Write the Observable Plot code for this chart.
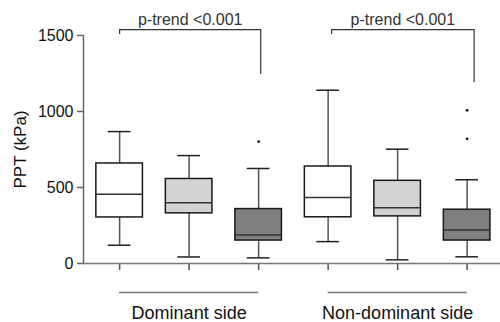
<!DOCTYPE html>
<html>
<head>
<meta charset="utf-8">
<script src="https://cdn.jsdelivr.net/npm/d3@7"></script>
<script src="https://cdn.jsdelivr.net/npm/@observablehq/plot@0.6"></script>
<style>
  html, body { margin: 0; padding: 0; background: #fff; }
  #chart svg { display: block; }
</style>
</head>
<body>
<div id="chart"></div>
<script>
// ---- data ----
const groups = ["Dominant side", "Non-dominant side"];
const groupStart = [1, 4];
const groupEnd = [3, 6];
const positions = [1, 2, 3, 4, 5, 6];
const boxFills = ["#ffffff", "#d3d3d3", "#7f7f7f", "#ffffff", "#d3d3d3", "#7f7f7f"];
const whiskerLow = [120, 43, 37, 144, 24, 44];
const q1 = [303, 330, 151, 304, 310, 151];
const median = [456, 400, 188, 435, 367, 221];
const q3 = [658, 556, 358, 638, 544, 354];
const whiskerHigh = [868, 710, 625, 1140, 752, 551];
const outlierPos = [3, 6, 6];
const outlierVal = [802, 1008, 820];
const yTicks = [0, 500, 1000, 1500];
const bracketLabel = ["p-trend <0.001", "p-trend <0.001"];
const bracketX1 = [1, 4.05];
const bracketX2 = [3.03, 6.1];
const bracketTop = [1539, 1539];
const bracketLeftEnd = [1507, 1507];
const bracketRightEnd = [1243, 1191];

// ---- derived tables ----
const boxes = positions.map((p, i) => ({
  x: p, fill: boxFills[i], lo: whiskerLow[i], q1: q1[i], med: median[i], q3: q3[i], hi: whiskerHigh[i]
}));
const outliers = outlierPos.map((p, i) => ({x: p, y: outlierVal[i]}));
const grp = groups.map((g, i) => ({label: g, x1: groupStart[i], x2: groupEnd[i], xm: (groupStart[i] + groupEnd[i]) / 2}));
const brackets = bracketLabel.map((t, i) => ({
  t, x1: bracketX1[i], x2: bracketX2[i], top: bracketTop[i], le: bracketLeftEnd[i], re: bracketRightEnd[i],
  xm: (bracketX1[i] + bracketX2[i]) / 2
}));

const HB = 0.335, HC = 0.163;
const font = "'Liberation Sans', Arial, sans-serif";

const chart = Plot.plot({
  width: 500,
  height: 322,
  marginLeft: 83,
  marginRight: 0,
  marginTop: 35,
  marginBottom: 59,
  style: {fontFamily: font, background: "#fff", color: "#222"},
  color: {type: "identity"},
  x: {domain: [0.48, 6.48], axis: null},
  y: {domain: [0, 1500], axis: null},
  marks: [
    // axes
    Plot.axisY({ticks: yTicks, tickFormat: d => String(d), tickSize: 6, tickPadding: 4, fontSize: 16, label: null, stroke: "#666", strokeWidth: 1.5, fill: "#111"}),
    Plot.axisX({ticks: positions, tickSize: 7, tickFormat: () => "", label: null, stroke: "#555", strokeWidth: 1.5}),
    Plot.frame({anchor: "left", stroke: "#666", strokeWidth: 1.5}),
    Plot.frame({anchor: "bottom", stroke: "#777", strokeWidth: 1.5}),
    // whiskers
    Plot.ruleX(boxes, {x: "x", y1: "lo", y2: "q1", stroke: "#555", strokeWidth: 1.5}),
    Plot.ruleX(boxes, {x: "x", y1: "q3", y2: "hi", stroke: "#555", strokeWidth: 1.5}),
    Plot.ruleY(boxes, {y: "lo", x1: d => d.x - HC, x2: d => d.x + HC, stroke: "#222", strokeWidth: 1.5}),
    Plot.ruleY(boxes, {y: "hi", x1: d => d.x - HC, x2: d => d.x + HC, stroke: "#222", strokeWidth: 1.5}),
    // boxes
    Plot.rect(boxes, {x1: d => d.x - HB, x2: d => d.x + HB, y1: "q1", y2: "q3", fill: "fill", stroke: "#1a1a1a", strokeWidth: 1.5}),
    Plot.ruleY(boxes, {y: "med", x1: d => d.x - HB, x2: d => d.x + HB, stroke: "#333", strokeWidth: 1.5}),
    // outliers
    Plot.dot(outliers, {x: "x", y: "y", r: 1.4, fill: "#111", stroke: "none"}),
    // trend brackets
    Plot.ruleY(brackets, {y: "top", x1: "x1", x2: "x2", stroke: "#333", strokeWidth: 1.2}),
    Plot.ruleX(brackets, {x: "x1", y1: "le", y2: "top", stroke: "#333", strokeWidth: 1.2}),
    Plot.ruleX(brackets, {x: "x2", y1: "re", y2: "top", stroke: "#333", strokeWidth: 1.2}),
    Plot.text(brackets, {x: "xm", y: "top", text: "t", dy: -10, fontSize: 16, fill: "#333", lineAnchor: "middle", textAnchor: "middle"}),
    // group lines and labels
    Plot.ruleY(grp, {y: 0, x1: "x1", x2: "x2", dy: 29, stroke: "#777", strokeWidth: 1.5}),
    Plot.text(grp, {x: "xm", y: 0, text: "label", dy: 50, fontSize: 18, fill: "#111", lineAnchor: "middle", textAnchor: "middle"}),
    // y label
    Plot.text(["PPT (kPa)"], {frameAnchor: "left", text: d => d, rotate: -90, dx: -63, fontSize: 17, fill: "#111", lineAnchor: "middle", textAnchor: "middle"})
  ]
});
document.getElementById("chart").appendChild(chart);
</script>
</body>
</html>
